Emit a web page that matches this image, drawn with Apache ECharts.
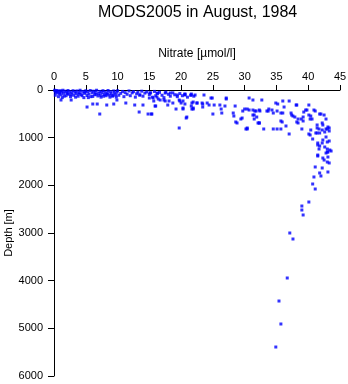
<!DOCTYPE html>
<html>
<head>
<meta charset="utf-8">
<script src="https://cdn.jsdelivr.net/npm/echarts@6/dist/echarts.min.js"></script>
<style>
  html, body { margin: 0; padding: 0; background: #fff; }
  #chart { width: 348px; height: 384px; }
</style>
</head>
<body>
<div id="chart"></div>
<script>
// Nitrate profile samples: [nitrate (µmol/l), depth (m)]
// Mixed surface layer, dense low-nitrate cluster
const surfaceLayer = [
  [0.1,5],[0.3,20],[0.5,10],[0.2,45],[0.4,60],[0.6,30],[0.8,80],[1.0,15],[1.2,40],[1.1,100],
  [1.4,5],[1.5,70],[1.7,25],[1.9,120],[2.0,50],[2.2,10],[2.3,90],[2.5,35],[2.6,140],[2.8,60],
  [3.0,15],[3.1,110],[3.3,45],[3.5,75],[3.6,20],[3.8,130],[4.0,55],[4.1,5],[4.3,95],[4.5,30],
  [4.7,160],[4.8,70],[5.0,15],[5.2,115],[5.3,40],[5.5,85],[5.7,10],[5.8,140],[6.0,60],[6.2,25],
  [6.4,100],[6.5,50],[6.7,5],[6.9,125],[7.0,75],[7.2,30],[7.4,150],[7.5,55],[7.7,15],[7.9,95],
  [8.0,40],[8.2,120],[8.4,65],[8.5,10],[8.7,105],[8.9,35],[9.0,80],[9.2,130],[9.4,20],[9.5,60],
  [9.7,100],[9.9,45],[10.0,15],[10.2,110],[10.5,70],[10.8,30],[11.0,140],[11.2,55],[11.5,90],[11.8,20],
  [12.0,120],[12.3,60],[12.5,35],[12.8,150],[13.0,80],[13.2,45],[13.5,105],[13.8,25],[14.0,130],[14.3,65],
  [14.6,40],[15.0,95],[15.2,60],[15.5,150],[15.8,30],[16.0,120],[16.3,75],[16.6,50],[17.0,110],[17.3,160],
  [17.6,45],[18.0,90],[18.3,130],[18.7,60],[19.0,100],[19.4,140],[19.8,75],[20.2,120],[20.6,90],[21.0,150],
  [21.5,110],[22.0,130],
  [0.2,110],[0.7,140],[1.3,160],[0.9,55],[1.6,130],[2.1,75],[2.7,100],[3.4,150],[3.9,85],[4.4,120],
  [4.9,45],[5.4,160],[6.1,135],[6.6,90],[7.3,110],[7.8,130],[8.3,90],[8.8,150],[9.3,115],[9.8,150],
  [15.1,63],[16.2,63],[17.5,63],[18.3,63],[20.6,84],[21.6,84],[22.2,105],[23.6,105],[24.7,168],[27.1,189],
  [15.6,168],[16.4,189],[13.5,105],[15.0,168],[16.2,147],[19.4,105],[20.6,105],[21.6,105]
];

// Upper thermocline, nitrate increasing with depth
const thermocline = [
  [1.1,210],[2.7,210],[5.2,357],[7.2,504],[6.8,294],[6.1,294],[8.3,315],[9.4,294],[9.9,210],[11.3,273],
  [12.7,315],[13.4,462],[14.8,504],[15.4,504],[16.0,336],[14.0,315],[15.7,231],[16.7,210],[17.5,231],[17.9,315],
  [18.7,273],[19.2,399],[19.8,231],[20.3,231],[20.9,567],[19.7,797],[20.3,378],[21.9,378],[21.7,273],[17.3,210],
  [18.1,231],[19.7,210],[20.0,273],[20.6,294],[21.6,336],[22.5,273],[23.4,294],[24.4,315],[25.2,315],[26.1,315],
  [26.9,336],[28.5,336],[15.9,336],[20.3,399],[21.7,399],[26.3,399],[26.4,483],[28.2,483],[28.3,546],[29.4,609],
  [30.0,399],[15.3,504],[20.8,588],[25.0,504],[28.6,671],[30.2,818],[21.9,252],[22.5,273],[23.3,273],[24.1,273],
  [23.4,357],[21.9,399],[24.9,168],[27.1,168],[29.7,441],[30.7,420],[31.6,441],[32.4,441],[31.5,525],[31.9,567],
  [32.1,692],[30.7,168],[31.3,210],[32.7,210],[34.9,273],[35.2,294],[36.0,231],[37.0,231],[38.1,315],[40.1,315],
  [30.4,399],[31.3,420],[31.8,441],[32.3,420],[33.7,441],[34.3,420],[35.1,441],[36.0,483],[37.3,483],[37.6,546],
  [38.4,609],[38.9,609],[39.6,420],[40.1,525],[40.3,609],[40.9,420],[42.0,504],[42.8,609],[31.3,525],[31.5,609],
  [32.3,692],[30.4,818],[33.0,818],[34.5,818],[35.1,818],[35.7,818],[35.7,650],[36.5,755],[37.0,923],[39.0,818],
  [40.1,923],[41.4,734],[41.7,818],[42.3,734],[42.8,818],[43.3,797],[43.3,860],[41.2,902],[39.3,462],[36.2,357],
  [33.8,399],[29.6,588],[28.8,692],[30.4,797],[33.5,441],[34.5,483],[35.7,483],[35.9,671],[37.4,525],[37.9,567],
  [38.2,315],[38.4,692],[39.2,567],[39.8,420],[40.4,546],[40.6,609],[41.1,441],[41.8,504],[42.5,525],[32.3,692]
];

// Deep water, nitrate maximum and slow decline toward the bottom
const deepWater = [
  [42.2,692],[43.1,776],[42.6,881],[41.8,902],[41.4,902],[42.8,986],[43.3,1070],[42.2,1112],[41.5,1154],[43.0,1238],
  [43.6,1280],[41.7,1238],[42.8,1322],[43.1,1406],[41.8,1175],[40.3,944],[40.7,1028],[41.5,1112],[42.3,1049],[43.0,1091],
  [43.4,1259],[43.1,1301],[41.5,1364],[42.3,1427],[39.2,650],[38.2,671],[43.0,818],[42.2,839],[41.4,797],[40.4,839],
  [42.6,1196],[43.0,1301],[41.5,1385],[42.5,1469],[43.0,1511],[43.3,1531],[41.1,1615],[42.2,1636],[43.1,1720],[41.8,1741],
  [42.0,1804],[40.9,1825],[40.7,1972],[41.1,2077],[40.1,2350],[39.0,2434],[39.0,2518],[39.2,2622],[37.1,3000],[37.6,3126],
  [36.7,3944],[35.4,4427],[35.7,4909],[34.9,5392]
];

const xTicks = { min: 0, max: 45, step: 5 };
const yTicks = { min: 0, max: 6000, step: 1000 };

const chart = echarts.init(document.getElementById('chart'), null, { renderer: 'canvas' });
const font = 'Liberation Sans, Arial, Helvetica, sans-serif';
const markStyle = { color: '#0000ff' };

chart.setOption({
  animation: false,
  backgroundColor: '#ffffff',
  title: {
    text: 'MODS2005 in August, 1984',
    left: 93,
    top: 0,
    textStyle: { fontFamily: font, fontSize: 16, fontWeight: 'normal', color: '#000' }
  },
  grid: { left: 54, top: 90, width: 286, height: 286, containLabel: false, outerBoundsMode: 'none' },
  xAxis: {
    type: 'value',
    position: 'top',
    min: xTicks.min, max: xTicks.max, interval: xTicks.step,
    name: 'Nitrate [\u00b5mol/l]',
    nameLocation: 'middle',
    nameGap: 30,
    nameMoveOverlap: false,
    nameTextStyle: { fontFamily: font, fontSize: 12, color: '#000' },
    axisLine: { show: true, lineStyle: { color: '#000', width: 1 } },
    axisTick: { show: true, inside: false, length: 5, lineStyle: { color: '#000' } },
    axisLabel: { fontFamily: font, fontSize: 11, color: '#000', margin: 8 },
    splitLine: { show: false }
  },
  yAxis: {
    type: 'value',
    inverse: true,
    min: yTicks.min, max: yTicks.max, interval: yTicks.step,
    name: 'Depth [m]',
    nameLocation: 'middle',
    nameGap: 40,
    nameRotate: 90,
    nameMoveOverlap: false,
    nameTextStyle: { fontFamily: font, fontSize: 11, color: '#000' },
    axisLine: { show: true, lineStyle: { color: '#000', width: 1 } },
    axisTick: { show: true, inside: false, length: 6, lineStyle: { color: '#000' } },
    axisLabel: { fontFamily: font, fontSize: 11, color: '#000', margin: 11, formatter: (v) => String(v) },
    splitLine: { show: false }
  },
  series: [
    { type: 'scatter', data: surfaceLayer, symbol: 'rect', symbolSize: 3, itemStyle: markStyle, silent: true },
    { type: 'scatter', data: thermocline, symbol: 'rect', symbolSize: 3, itemStyle: markStyle, silent: true },
    { type: 'scatter', data: deepWater, symbol: 'rect', symbolSize: 3, itemStyle: markStyle, silent: true }
  ]
});
</script>
</body>
</html>
